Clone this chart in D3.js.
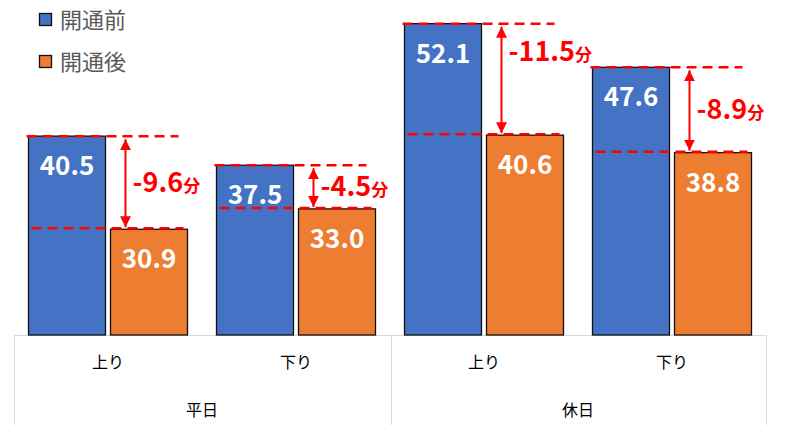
<!DOCTYPE html>
<html><head><meta charset="utf-8">
<script src="https://cdn.jsdelivr.net/npm/d3@7"></script>
<style>
html,body{margin:0;padding:0;background:#fff;}
svg{display:block;font-family:"Noto Sans CJK JP","Noto Sans",sans-serif;}
</style></head>
<body>
<svg id="chart" width="785" height="425"></svg>
<script>
const seriesNames = ["開通前", "開通後"];
const seriesColors = ["#4472C4", "#ED7D31"];
const groups = ["平日", "休日"];
const directions = ["上り", "下り", "上り", "下り"];
const groupOf = ["平日", "平日", "休日", "休日"];
const before = [40.5, 37.5, 52.1, 47.6];
const after = [30.9, 33.0, 40.6, 38.8];
const diffLabels = ["-9.6", "-4.5", "-11.5", "-8.9"];
const diffUnit = "分";

const svg = d3.select("#chart");
const keys = directions.map((d, i) => i);

const x0 = d3.scaleBand().domain(keys).range([14, 766]).paddingInner(0).paddingOuter(0);
const x1 = d3.scaleBand().domain([0, 1]).range([14.5, x0.bandwidth() - 14.5]).paddingInner(5 / 82).paddingOuter(0);
const y = d3.scaleLinear().domain([20, 50]).range([335, 44]);

const groupScale = d3.scaleBand().domain(groups).range([14, 766]);

// Axis box
const axisG = svg.append("g").attr("stroke", "#d9d9d9").attr("stroke-width", 1);
axisG.append("line").attr("x1", 14).attr("x2", 766).attr("y1", 335.5).attr("y2", 335.5);
[14, 391, 766].forEach(xv => {
  axisG.append("line").attr("x1", xv + 0.5).attr("x2", xv + 0.5).attr("y1", 335).attr("y2", 425);
});

// Bars
const barData = [];
keys.forEach(i => {
  barData.push({i, s: 0, v: before[i]});
  barData.push({i, s: 1, v: after[i]});
});
svg.append("g").selectAll("rect").data(barData).join("rect")
  .attr("x", d => x0(d.i) + x1(d.s))
  .attr("y", d => y(d.v))
  .attr("width", x1.bandwidth())
  .attr("height", d => y.range()[0] - y(d.v))
  .attr("fill", d => seriesColors[d.s])
  .attr("stroke", "#111")
  .attr("stroke-width", 1.3);

// Value labels
svg.append("g").selectAll("text").data(barData).join("text")
  .attr("x", d => x0(d.i) + x1(d.s) + x1.bandwidth() / 2)
  .attr("y", d => y(d.v) + 39)
  .attr("text-anchor", "middle")
  .attr("fill", "#fff")
  .attr("font-size", 26)
  .attr("font-weight", "bold")
  .text(d => d.v.toFixed(1));

// Category labels
svg.append("g").selectAll("text").data(keys).join("text")
  .attr("x", i => x0(i) + x0.bandwidth() / 2)
  .attr("y", 368)
  .attr("text-anchor", "middle")
  .attr("fill", "#000")
  .attr("font-size", 16)
  .text(i => directions[i]);

svg.append("g").selectAll("text").data(groups).join("text")
  .attr("x", g => groupScale(g) + groupScale.bandwidth() / 2)
  .attr("y", 416)
  .attr("text-anchor", "middle")
  .attr("fill", "#000")
  .attr("font-size", 16)
  .text(g => g);

// Annotations
const defs = svg.append("defs");
defs.append("marker").attr("id", "ah").attr("viewBox", "0 0 10 10")
  .attr("refX", 10).attr("refY", 5).attr("markerWidth", 5.5).attr("markerHeight", 6.5)
  .attr("markerUnits", "strokeWidth").attr("orient", "auto-start-reverse")
  .append("path").attr("d", "M0,0 L10,5 L0,10 Z").attr("fill", "#FF0000");

const ann = svg.append("g");
keys.forEach(i => {
  const bx = x0(i) + x1(0);
  const ox = x0(i) + x1(1);
  const yt = y(before[i]);
  const yb = y(after[i]);
  ann.append("line").attr("x1", bx - 2).attr("x2", bx + 150).attr("y1", yt).attr("y2", yt)
    .attr("stroke", "#FF0000").attr("stroke-width", 2.5).attr("stroke-dasharray", "10,6");
  ann.append("line").attr("x1", bx + 3).attr("x2", bx + 155).attr("y1", yb - 1).attr("y2", yb - 1)
    .attr("stroke", "#FF0000").attr("stroke-width", 2.5).attr("stroke-dasharray", "10,6");
  const ax = ox + 15;
  ann.append("line").attr("x1", ax).attr("x2", ax).attr("y1", yt + 3).attr("y2", yb - 2)
    .attr("stroke", "#FF0000").attr("stroke-width", 2)
    .attr("marker-start", "url(#ah)").attr("marker-end", "url(#ah)");
  const big = (before[i] - after[i]) > 10;
  const ly = big ? yt + 28 : (yt + yb) / 2;
  const t = ann.append("text").attr("x", ax + 7).attr("y", ly + 9)
    .attr("fill", "#FF0000").attr("font-weight", "bold").attr("font-size", 27);
  t.append("tspan").text(diffLabels[i]);
  t.append("tspan").attr("font-size", 17).text(diffUnit);
});

// Legend
const leg = svg.append("g");
seriesNames.forEach((n, k) => {
  const ly = 20 + k * 42;
  leg.append("rect").attr("x", 39.5).attr("y", ly - 6.5).attr("width", 12).attr("height", 12)
    .attr("fill", seriesColors[k]).attr("stroke", "#111").attr("stroke-width", 1.3);
  leg.append("text").attr("x", 60).attr("y", ly + 8).attr("fill", "#595959")
    .attr("font-size", 22).text(n);
});
</script>
</body></html>
